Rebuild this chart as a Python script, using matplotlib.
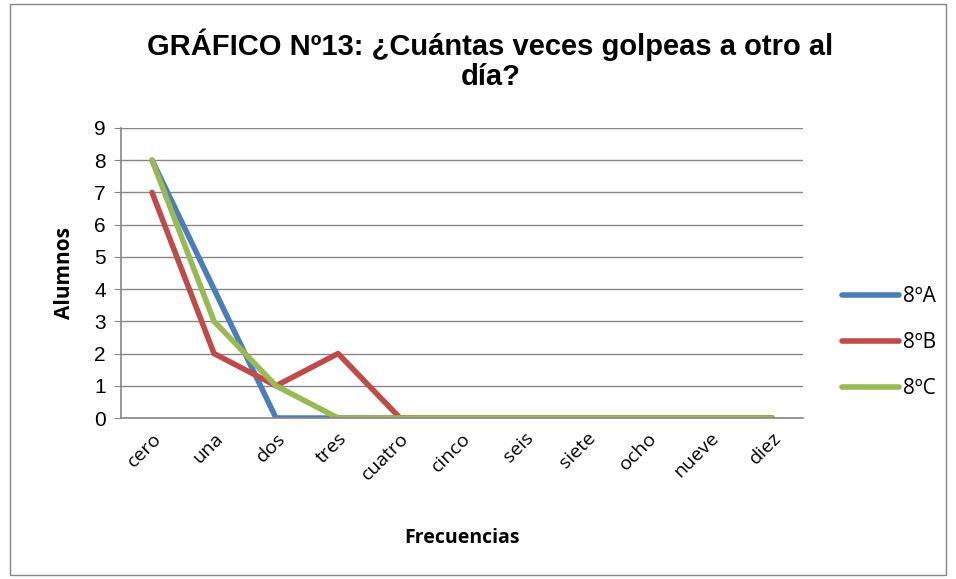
import matplotlib.pyplot as plt
from matplotlib.patches import Rectangle

categorias = ['cero', 'una', 'dos', 'tres', 'cuatro', 'cinco', 'seis', 'siete', 'ocho', 'nueve', 'diez']
curso_a = [8, 4, 0, 0, 0, 0, 0, 0, 0, 0, 0]
curso_b = [7, 2, 1, 2, 0, 0, 0, 0, 0, 0, 0]
curso_c = [8, 3, 1, 0, 0, 0, 0, 0, 0, 0, 0]
series = ['8ºA', '8ºB', '8ºC']
colores = ['#4a7ebb', '#be4b48', '#98b954']

fig = plt.figure(figsize=(9.56, 5.79), dpi=100)
# marco exterior del grafico
fig.patches.append(Rectangle((10 / 956, 4 / 579), 936 / 956, 571 / 579, transform=fig.transFigure,
                             fill=False, edgecolor='#868686', linewidth=1))

ax = fig.add_axes([0.1266, 0.278, 0.7134, 0.501])
x = range(len(categorias))
for datos, nombre, col in zip([curso_a, curso_b, curso_c], series, colores):
    ax.plot(x, datos, color=col, linewidth=4, label=nombre, solid_capstyle='round')

ax.set_xlim(-0.5, len(categorias) - 0.5)
ax.set_ylim(0, 9)
ax.set_yticks(range(10))
ax.yaxis.grid(True, color='#868686', linewidth=1)
ax.set_axisbelow(True)
for s in ['top', 'right']:
    ax.spines[s].set_visible(False)
for s in ['left', 'bottom']:
    ax.spines[s].set_color('#868686')
    ax.spines[s].set_linewidth(1.2)
ax.tick_params(axis='y', length=5, color='#868686', labelsize=15, pad=6)
ax.tick_params(axis='x', length=0, labelsize=14, pad=8)
ax.set_xticks(list(x))
ax.set_xticklabels(categorias, rotation=45, ha='right', rotation_mode='anchor', family='Open Sans')
for t in ax.get_yticklabels():
    t.set_family('Liberation Sans')

ax.set_ylabel('Alumnos', fontsize=15, fontweight='bold', family='Open Sans', labelpad=14)
ax.set_xlabel('Frecuencias', fontsize=14, fontweight='bold', family='Open Sans', labelpad=32)

fig.text(0.513, 0.897, 'GRÁFICO Nº13: ¿Cuántas veces golpeas a otro al\ndía?', ha='center', va='center',
         fontsize=21, fontweight='bold', family='Liberation Sans', linespacing=1.1)

leg = ax.legend(loc='center left', bbox_to_anchor=(1.03, 0.26), frameon=False,
                handlelength=2.7, labelspacing=1.2, handletextpad=0.2,
                prop={'family': 'Open Sans', 'size': 15})

fig.savefig('out.png', dpi=100)
